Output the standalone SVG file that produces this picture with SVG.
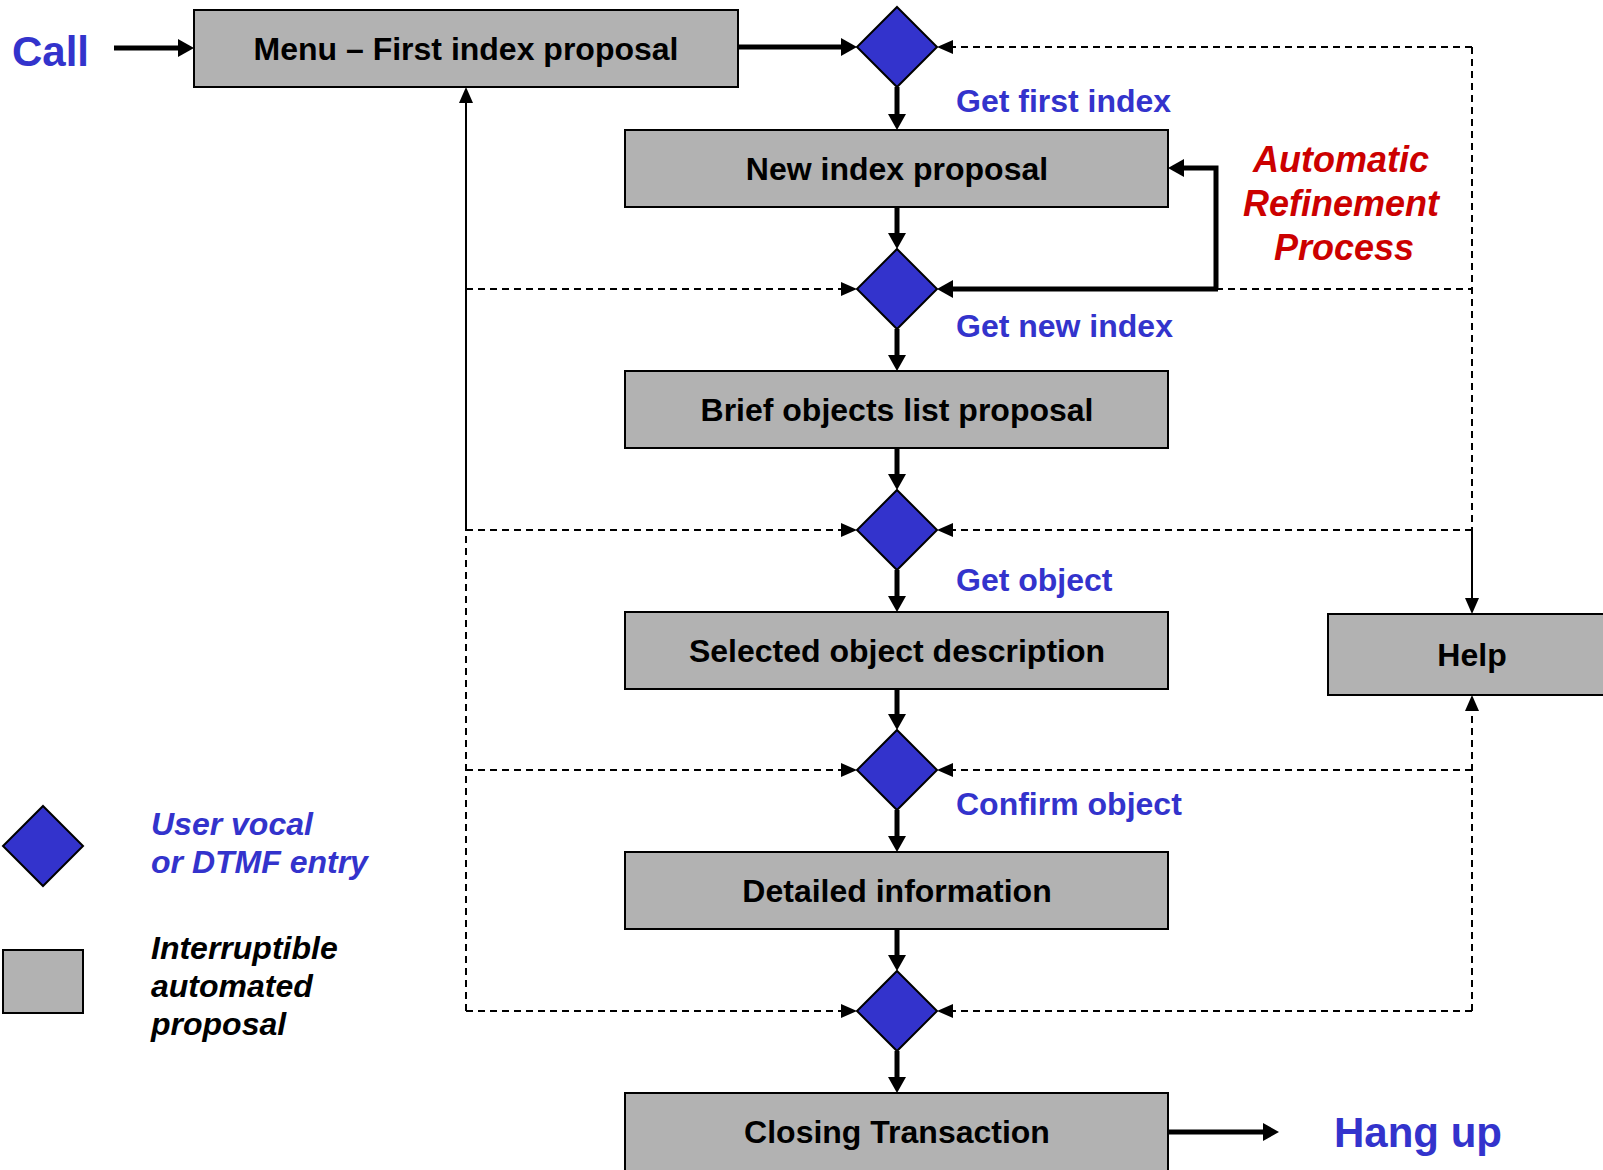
<svg xmlns="http://www.w3.org/2000/svg" width="1603" height="1170" viewBox="0 0 1603 1170">
<defs>
<style>
.box{fill:#b2b2b2;stroke:#000;stroke-width:2}
.dia{fill:#3333cc;stroke:#000;stroke-width:2;stroke-linejoin:miter}
.t{font-family:"Liberation Sans",Arial,sans-serif;font-weight:bold;font-size:32px;fill:#000;text-anchor:middle}
.lbl{font-family:"Liberation Sans",Arial,sans-serif;font-weight:bold;font-size:32px;fill:#3333cc}
.big{font-family:"Liberation Sans",Arial,sans-serif;font-weight:bold;font-size:42px;fill:#3333cc}
.red{font-family:"Liberation Sans",Arial,sans-serif;font-weight:bold;font-style:italic;font-size:36px;fill:#cc0000;text-anchor:middle}
.leg{font-family:"Liberation Sans",Arial,sans-serif;font-weight:bold;font-style:italic;font-size:32px}
.thick{fill:none;stroke:#000;stroke-width:5;marker-end:url(#ah)}
.dash{fill:none;stroke:#000;stroke-width:2;stroke-dasharray:7 5}
.thin{fill:none;stroke:#000;stroke-width:2}
.head{fill:#000}
</style>
<marker id="ah" markerUnits="userSpaceOnUse" markerWidth="18" markerHeight="20" viewBox="0 -10 18 20" refX="0" refY="0" orient="auto" overflow="visible">
<path d="M0,-9 L16,0 L0,9 Z" fill="#000"/>
</marker>
</defs>
<rect width="1603" height="1170" fill="#fff"/>

<g id="connectors">
<path class="thick" d="M114,48 L178,48"/>
<path class="thick" d="M738,47 L841,47"/>
<path class="thick" d="M897,87 L897,114"/>
<path class="thick" d="M897,207 L897,233"/>
<path class="thick" d="M897,329 L897,355"/>
<path class="thick" d="M897,448 L897,474"/>
<path class="thick" d="M897,570 L897,596"/>
<path class="thick" d="M897,689 L897,714"/>
<path class="thick" d="M897,810 L897,836"/>
<path class="thick" d="M897,929 L897,955"/>
<path class="thick" d="M897,1051 L897,1077"/>
<path class="thick" d="M1168,1132 L1263,1132"/>
<path class="thick" d="M1216,289 L1216,168 L1184,168"/>
<path class="thick" d="M1218,289 L953,289"/>
<path class="dash" d="M1472,47 L952,47"/>
<path class="dash" d="M1216,289 L1472,289"/>
<path class="dash" d="M466,289 L842,289"/>
<path class="dash" d="M466,530 L842,530"/>
<path class="dash" d="M1472,530 L952,530"/>
<path class="dash" d="M466,770 L842,770"/>
<path class="dash" d="M1472,770 L952,770"/>
<path class="dash" d="M466,1011 L842,1011"/>
<path class="dash" d="M1472,1011 L952,1011"/>
<path class="head" d="M841,282 L857,289 L841,296 Z M841,523 L857,530 L841,537 Z M841,763 L857,770 L841,777 Z M841,1004 L857,1011 L841,1018 Z"/>
<path class="head" d="M953,40 L937,47 L953,54 Z M953,523 L937,530 L953,537 Z M953,763 L937,770 L953,777 Z M953,1004 L937,1011 L953,1018 Z"/>
<path class="thin" d="M466,530 L466,102"/>
<path class="head" d="M459,103 L466,87 L473,103 Z"/>
<path class="dash" d="M466,1011 L466,530"/>
<path class="dash" d="M1472,47 L1472,530"/>
<path class="thin" d="M1472,530 L1472,599"/>
<path class="head" d="M1465,598 L1472,614 L1479,598 Z"/>
<path class="dash" d="M1472,1011 L1472,710"/>
<path class="head" d="M1465,711 L1472,695 L1479,711 Z"/>
</g>

<g id="call"><text class="big" x="12" y="66">Call</text></g>
<g id="hangup"><text class="big" x="1334" y="1147">Hang up</text></g>

<g id="menu"><rect class="box" x="194" y="10" width="544" height="77"/><text class="t" x="466" y="60">Menu – First index proposal</text></g>
<g id="d1"><path class="dia" d="M897,7 L937,47 L897,87 L857,47 Z"/></g>
<g id="lbl1"><text class="lbl" x="956" y="112">Get first index</text></g>
<g id="newindex"><rect class="box" x="625" y="130" width="543" height="77"/><text class="t" x="897" y="180">New index proposal</text></g>
<g id="refine"><text class="red" x="1341" y="172">Automatic</text><text class="red" x="1341" y="216">Refinement</text><text class="red" x="1344" y="260">Process</text></g>
<g id="d2"><path class="dia" d="M897,249 L937,289 L897,329 L857,289 Z"/></g>
<g id="lbl2"><text class="lbl" x="956" y="337">Get new index</text></g>
<g id="brief"><rect class="box" x="625" y="371" width="543" height="77"/><text class="t" x="897" y="421">Brief objects list proposal</text></g>
<g id="d3"><path class="dia" d="M897,490 L937,530 L897,570 L857,530 Z"/></g>
<g id="lbl3"><text class="lbl" x="956" y="591">Get object</text></g>
<g id="selected"><rect class="box" x="625" y="612" width="543" height="77"/><text class="t" x="897" y="662">Selected object description</text></g>
<g id="help"><rect class="box" x="1328" y="614" width="280" height="81"/><text class="t" x="1472" y="666">Help</text></g>
<g id="d4"><path class="dia" d="M897,730 L937,770 L897,810 L857,770 Z"/></g>
<g id="lbl4"><text class="lbl" x="956" y="815">Confirm object</text></g>
<g id="detailed"><rect class="box" x="625" y="852" width="543" height="77"/><text class="t" x="897" y="902">Detailed information</text></g>
<g id="d5"><path class="dia" d="M897,971 L937,1011 L897,1051 L857,1011 Z"/></g>
<g id="closing"><rect class="box" x="625" y="1093" width="543" height="80"/><text class="t" x="897" y="1143">Closing Transaction</text></g>

<g id="legend">
<path class="dia" d="M43,806 L83,846 L43,886 L3,846 Z"/>
<text class="leg" x="151" y="835" fill="#3333cc">User vocal</text>
<text class="leg" x="151" y="873" fill="#3333cc">or DTMF entry</text>
<rect class="box" x="3" y="950" width="80" height="63"/>
<text class="leg" x="151" y="959" fill="#000">Interruptible</text>
<text class="leg" x="151" y="997" fill="#000">automated</text>
<text class="leg" x="151" y="1035" fill="#000">proposal</text>
</g>
</svg>
